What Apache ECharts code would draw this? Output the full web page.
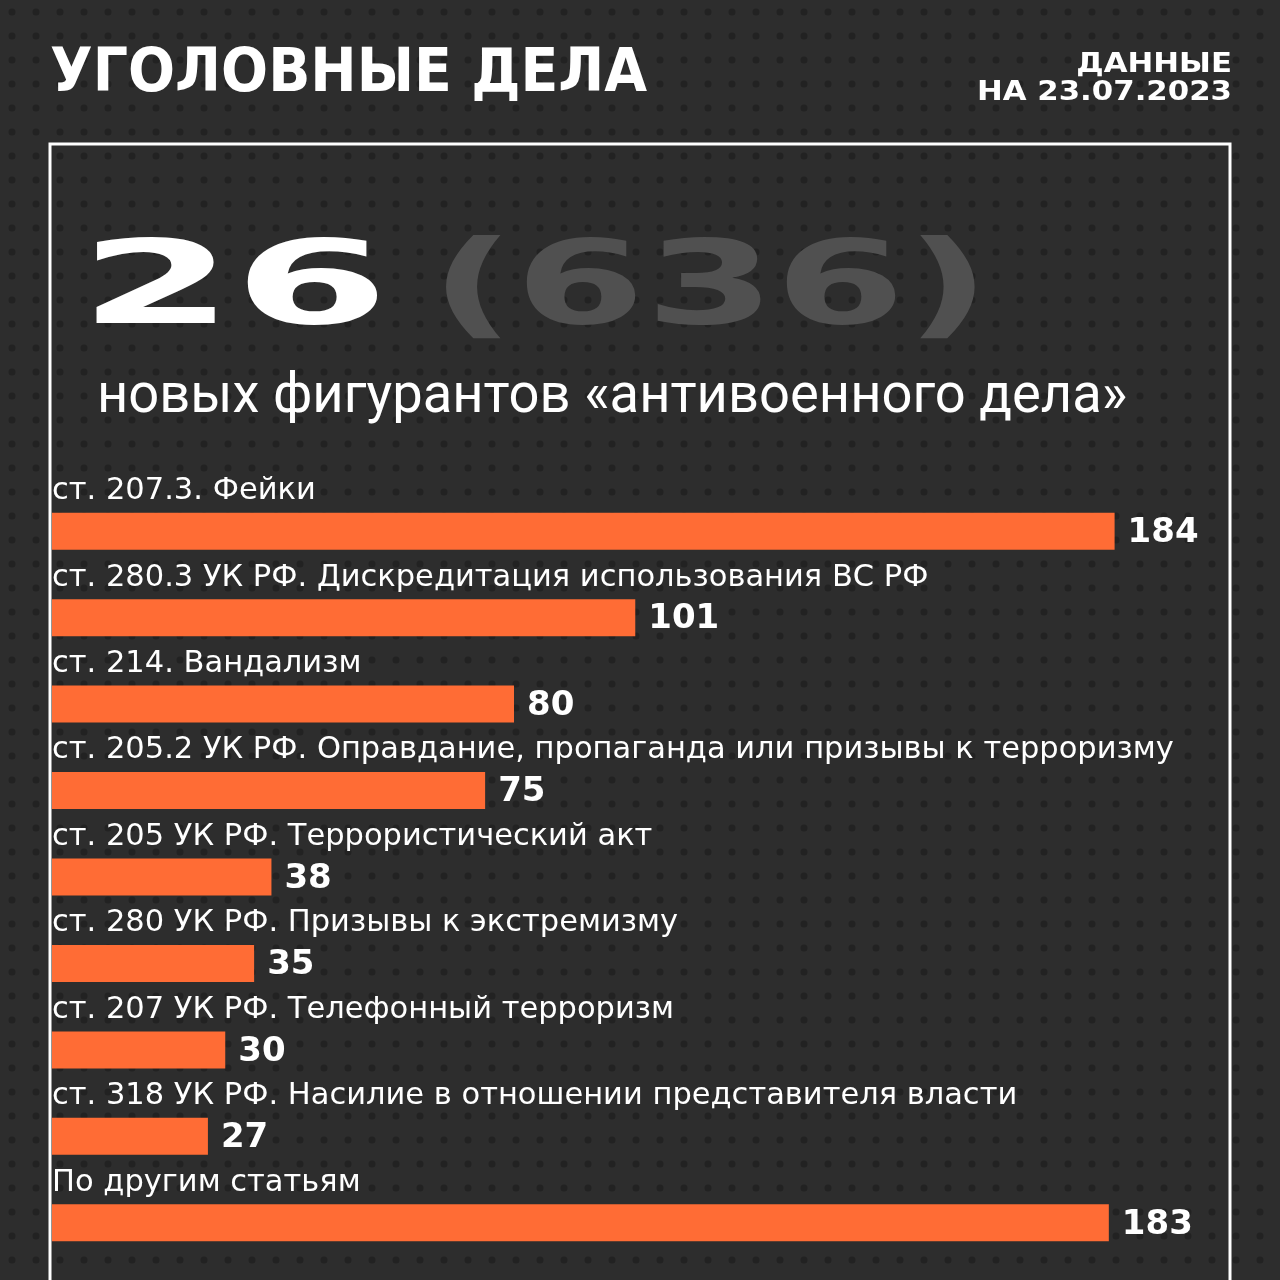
<!DOCTYPE html>
<html>
<head>
<meta charset="utf-8">
<script src="https://cdn.jsdelivr.net/npm/echarts@6/dist/echarts.min.js"></script>
<style>
  html, body { margin: 0; padding: 0; background: #2c2c2c; }
  #main { width: 1280px; height: 1280px; }
</style>
</head>
<body>
<div id="main"></div>
<script>
// статьи и число фигурантов
var categories = [
    'ст. 207.3. Фейки',
    'ст. 280.3 УК РФ. Дискредитация использования ВС РФ',
    'ст. 214. Вандализм',
    'ст. 205.2 УК РФ. Оправдание, пропаганда или призывы к терроризму',
    'ст. 205 УК РФ. Террористический акт',
    'ст. 280 УК РФ. Призывы к экстремизму',
    'ст. 207 УК РФ. Телефонный терроризм',
    'ст. 318 УК РФ. Насилие в отношении представителя власти',
    'По другим статьям'
];
var values = [184, 101, 80, 75, 38, 35, 30, 27, 183];

var titleText = 'УГОЛОВНЫЕ ДЕЛА';
var dateLines = ['ДАННЫЕ', 'НА 23.07.2023'];
var bigNumber = '26';
var bigTotal = '(636)';
var subtitleText = 'новых фигурантов «антивоенного дела»';

// фон в точку
var tile = document.createElement('canvas');
tile.width = 24; tile.height = 24;
var ctx = tile.getContext('2d');
ctx.fillStyle = '#2d2d2d';
ctx.fillRect(0, 0, 24, 24);
ctx.fillStyle = '#222222';
ctx.beginPath();
ctx.arc(12, 12, 3.5, 0, Math.PI * 2);
ctx.fill();

var myChart = echarts.init(document.getElementById('main'));
var option = {
    backgroundColor: { image: tile, repeat: 'repeat' },
    animation: false,
    grid: { left: 52, right: 73, top: 488, bottom: 14 },
    xAxis: {
        type: 'value',
        min: 0,
        max: 200,
        show: false
    },
    yAxis: {
        type: 'category',
        data: categories,
        inverse: true,
        axisLine: { show: false },
        axisTick: { show: false },
        axisLabel: {
            inside: true,
            margin: 0,
            color: '#ffffff',
            fontFamily: 'DejaVu Sans',
            fontSize: 30.5,
            verticalAlign: 'bottom',
            lineHeight: 80
        },
        z: 5
    },
    series: [
        {
            type: 'bar',
            data: values,
            barWidth: 37,
            itemStyle: { color: '#ff6c35' },
            label: {
                show: true,
                position: 'right',
                distance: 13,
                offset: [0, 2],
                color: '#ffffff',
                fontFamily: 'DejaVu Sans',
                fontWeight: 'bold',
                fontSize: 34
            }
        }
    ],
    graphic: [
        {
            type: 'rect',
            shape: { x: 50, y: 144, width: 1180, height: 1200 },
            style: { fill: 'none', stroke: '#ffffff', lineWidth: 3 },
            silent: true
        },
        {
            type: 'text',
            x: 50, y: 75,
            scaleX: 0.923,
            style: {
                text: titleText,
                fill: '#ffffff',
                font: 'bold 60px "DejaVu Sans"',
                textVerticalAlign: 'middle'
            }
        },
        {
            type: 'text',
            x: 1232, y: 65,
            scaleX: 1.14,
            style: {
                text: dateLines[0],
                fill: '#ffffff',
                font: 'bold 27px "DejaVu Sans"',
                textAlign: 'right',
                textVerticalAlign: 'middle'
            }
        },
        {
            type: 'text',
            x: 1232, y: 93,
            scaleX: 1.14,
            style: {
                text: dateLines[1],
                fill: '#ffffff',
                font: 'bold 27px "DejaVu Sans"',
                textAlign: 'right',
                textVerticalAlign: 'middle'
            }
        },
        {
            type: 'text',
            x: 79, y: 293,
            scaleX: 1.92,
            style: {
                text: bigNumber,
                fill: '#ffffff',
                font: 'bold 116px "DejaVu Sans"',
                textVerticalAlign: 'middle'
            }
        },
        {
            type: 'text',
            x: 430, y: 293,
            scaleX: 1.61,
            style: {
                text: bigTotal,
                fill: '#505050',
                font: 'bold 116px "DejaVu Sans"',
                textVerticalAlign: 'middle'
            }
        },
        {
            type: 'text',
            x: 97, y: 398,
            scaleX: 0.97,
            style: {
                text: subtitleText,
                fill: '#ffffff',
                font: '56px Roboto',
                textVerticalAlign: 'middle'
            }
        }
    ]
};
myChart.setOption(option);
</script>
</body>
</html>
